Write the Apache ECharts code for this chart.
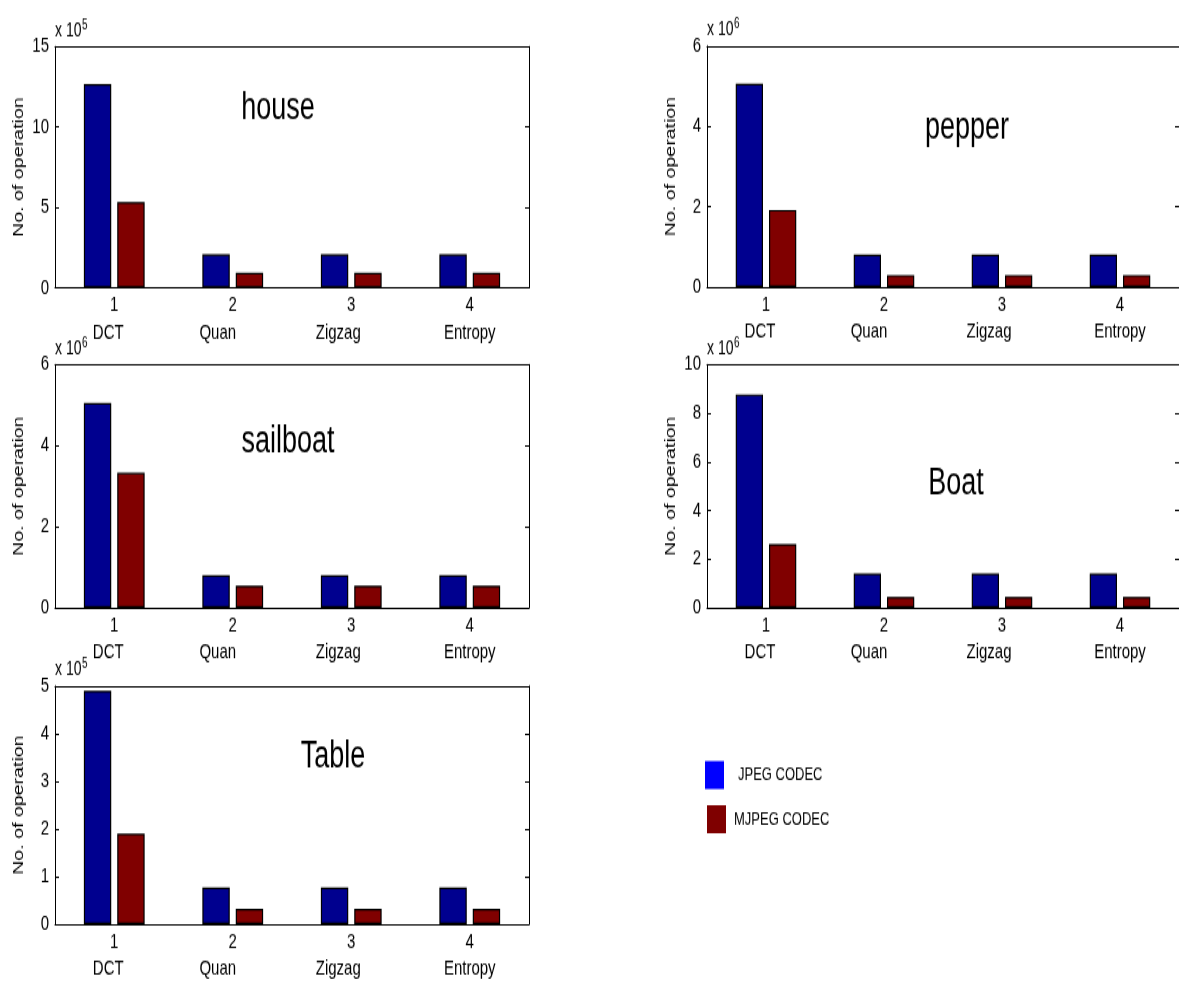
<!DOCTYPE html>
<html><head><meta charset="utf-8">
<script src="https://cdn.jsdelivr.net/npm/echarts@6/dist/echarts.min.js"></script>
<style>
html,body{margin:0;padding:0;background:#fff;overflow:hidden;width:1179px;height:983px}
#wrap{width:1179px;height:983px;overflow:hidden}
#chart{width:1179px;height:702px;transform:scaleY(1.40028);transform-origin:0 0}
</style></head><body><div id="wrap"><div id="chart"></div></div>
<script>
// ---- data ----
const categories = ['1', '2', '3', '4'];
const stages = ['DCT', 'Quan', 'Zigzag', 'Entropy'];
const seriesNames = ['JPEG CODEC', 'MJPEG CODEC'];
const panelNames = ['house', 'pepper', 'sailboat', 'Boat', 'Table'];
const panelExponents = ['5', '6', '6', '6', '5'];
const yMax = [15, 6, 6, 10, 5];
const yStep = [5, 2, 2, 2, 1];
const jpegHouse = [12.67, 2.08, 2.08, 2.08];
const mjpegHouse = [5.33, 0.93, 0.93, 0.93];
const jpegPepper = [5.06, 0.81, 0.81, 0.81];
const mjpegPepper = [1.92, 0.30, 0.30, 0.30];
const jpegSailboat = [5.05, 0.80, 0.80, 0.80];
const mjpegSailboat = [3.33, 0.545, 0.545, 0.545];
const jpegBoat = [8.77, 1.41, 1.41, 1.41];
const mjpegBoat = [2.62, 0.45, 0.45, 0.45];
const jpegTable = [4.90, 0.77, 0.77, 0.77];
const mjpegTable = [1.90, 0.32, 0.32, 0.32];

const panelData = [
  [jpegHouse, mjpegHouse],
  [jpegPepper, mjpegPepper],
  [jpegSailboat, mjpegSailboat],
  [jpegBoat, mjpegBoat],
  [jpegTable, mjpegTable]
];

// ---- layout ----
const FONT = '"Liberation Sans", Arial, sans-serif';
const barColors = ['#00008F', '#800000'];
const legendColors = ['#0000FF', '#7F0000'];
const grids = [
  {left: 55, top: 33.2, width: 474, height: 172.3},
  {left: 707, top: 32.8, width: 474, height: 172.2},
  {left: 55, top: 260.3, width: 474, height: 173.7},
  {left: 707, top: 260.3, width: 474, height: 173.7},
  {left: 55, top: 489.9, width: 474, height: 171.9}
];
const titlePos = [[278, 77.5], [967, 92], [288, 315.5], [956, 346], [333, 541]];
// right padding (px) on second label line, shifting the word left by half of it
const stageShift = [12, 30, 26, 0];

const labelBase = {color: '#000', fontSize: 15, fontFamily: FONT, lineHeight: 19.5};
const rich = {};
stageShift.forEach((p, k) => { rich['s' + k] = Object.assign({padding: [0, p, 0, 0]}, labelBase); });

const xAxes = [], yAxes = [], series = [], graphics = [];
grids.forEach((g, i) => {
  xAxes.push({
    type: 'category', gridIndex: i, data: categories, position: 'bottom',
    axisLine: {onZero: false, lineStyle: {color: '#000', width: 1}},
    axisTick: {inside: true, alignWithLabel: true, length: 4, lineStyle: {color: '#000'}},
    axisLabel: Object.assign({
      interval: 0, margin: 3, rich: rich,
      formatter: (v, idx) => v + '\n{s' + idx + '|' + stages[idx] + '}'
    }, labelBase),
    splitLine: {show: false}
  });
  xAxes.push({
    type: 'category', gridIndex: i, data: categories, position: 'top',
    axisLine: {onZero: false, lineStyle: {color: '#000', width: 1}},
    axisTick: {inside: true, alignWithLabel: true, length: 4, lineStyle: {color: '#000'}},
    axisLabel: {show: false}, splitLine: {show: false}
  });
  yAxes.push({
    type: 'value', gridIndex: i, min: 0, max: yMax[i], interval: yStep[i], position: 'left',
    axisLine: {show: true, onZero: false, lineStyle: {color: '#000', width: 1}},
    axisTick: {show: true, inside: true, length: 4, lineStyle: {color: '#000'}},
    axisLabel: {color: '#000', fontSize: 15, fontFamily: FONT, margin: 6},
    splitLine: {show: false},
    name: 'No. of operation', nameLocation: 'middle', nameGap: 29,
    nameTextStyle: {color: '#000', fontSize: 14, fontFamily: FONT}
  });
  yAxes.push({
    type: 'value', gridIndex: i, min: 0, max: yMax[i], interval: yStep[i], position: 'right',
    axisLine: {show: true, onZero: false, lineStyle: {color: '#000', width: 1}},
    axisTick: {show: true, inside: true, length: 4, lineStyle: {color: '#000'}},
    axisLabel: {show: false}, splitLine: {show: false}
  });
  panelData[i].forEach((vals, s) => {
    series.push({
      type: 'bar', name: seriesNames[s], xAxisIndex: i * 2, yAxisIndex: i * 2,
      data: vals, barWidth: '23.1%', barGap: '22%',
      itemStyle: {color: barColors[s], borderColor: '#000', borderWidth: 1.2},
      emphasis: {disabled: true}
    });
  });
  graphics.push({
    type: 'text', x: titlePos[i][0], y: titlePos[i][1],
    style: {text: panelNames[i], fontSize: 27, fontFamily: FONT, fill: '#000',
            align: 'center', verticalAlign: 'middle', textAlign: 'center', textVerticalAlign: 'middle'}
  });
  graphics.push({
    type: 'text', x: g.left, y: g.top - 4.5,
    style: {text: 'x 10', fontSize: 14, fontFamily: FONT, fill: '#000',
            align: 'left', verticalAlign: 'bottom', textAlign: 'left', textVerticalAlign: 'bottom'}
  });
  graphics.push({
    type: 'text', x: g.left + 27, y: g.top - 10.4,
    style: {text: panelExponents[i], fontSize: 10, fontFamily: FONT, fill: '#000',
            align: 'left', verticalAlign: 'bottom', textAlign: 'left', textVerticalAlign: 'bottom'}
  });
});

const chart = echarts.init(document.getElementById('chart'), null, {renderer: 'canvas'});
chart.setOption({
  animation: false,
  backgroundColor: '#fff',
  textStyle: {fontFamily: FONT, color: '#000'},
  grid: grids.map(g => Object.assign({containLabel: false}, g)),
  xAxis: xAxes,
  yAxis: yAxes,
  series: series,
  legend: [
    {
      left: 705, top: 543.5, orient: 'vertical', padding: 0, selectedMode: false,
      itemWidth: 19, itemHeight: 20, icon: 'rect',
      data: [{name: seriesNames[0], itemStyle: {color: legendColors[0], borderWidth: 0}}],
      textStyle: {color: '#000', fontSize: 13, fontFamily: FONT, padding: [0, 0, 0, 9]}
    },
    {
      left: 707, top: 575, orient: 'vertical', padding: 0, selectedMode: false,
      itemWidth: 19, itemHeight: 20, icon: 'rect',
      data: [{name: seriesNames[1], itemStyle: {color: legendColors[1], borderWidth: 0}}],
      textStyle: {color: '#000', fontSize: 13, fontFamily: FONT, padding: [0, 0, 0, 3]}
    }
  ],
  graphic: graphics
});
</script></body></html>
